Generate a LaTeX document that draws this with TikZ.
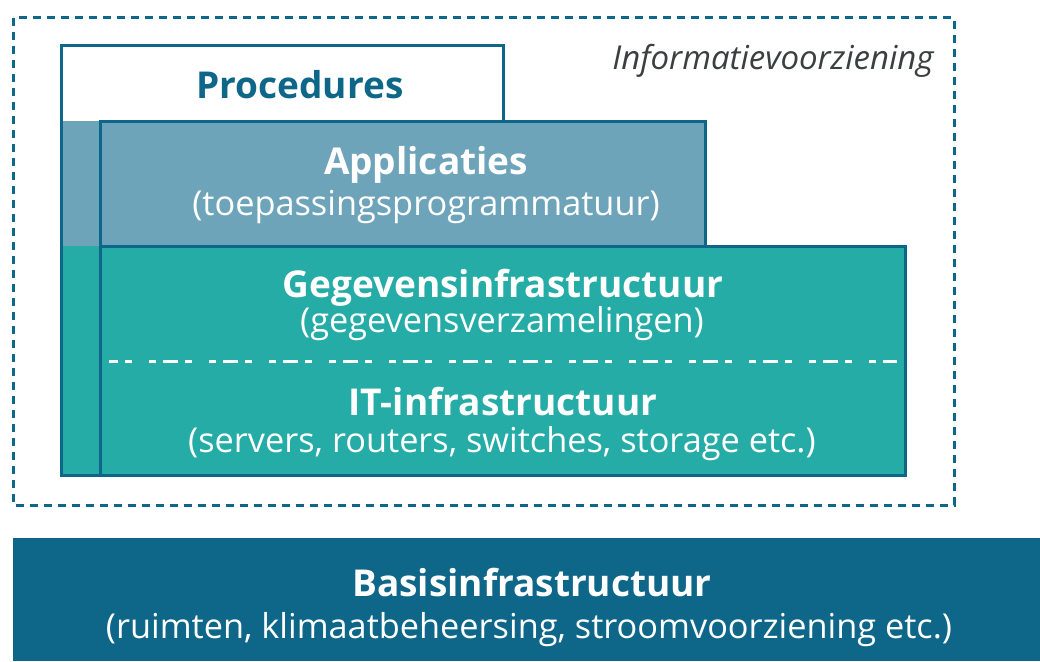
\documentclass[tikz,border=0pt]{standalone}
\usepackage{fontspec}
\setmainfont{Open Sans}
\definecolor{dblue}{HTML}{0E6689}
\definecolor{applblue}{HTML}{6EA4BA}
\definecolor{gteal}{HTML}{26ACA6}
\definecolor{labelgray}{HTML}{3A3F40}
\tikzset{
  frame/.style={draw=dblue, line width=3pt, line join=miter},
  title/.style={anchor=base, inner sep=0pt, font=\fontsize{37}{41}\selectfont\bfseries},
  sub/.style={anchor=base, inner sep=0pt, font=\fontsize{34.3}{38}\selectfont},
  innerdash/.style={draw=white, line width=3.5pt,
    dash pattern=on 15pt off 7pt on 7pt off 17pt on 7pt off 7pt, dash phase=6pt},
  outerdash/.style={draw=dblue, line width=3pt, dash pattern=on 8pt off 6pt}
}
\begin{document}
\begin{tikzpicture}[x=1pt, y=-1pt]
  % canvas
  \fill[white] (0,0) rectangle (1040,661);
  \useasboundingbox (0,0) rectangle (1040,661);

  % Procedures: top box and left column (L shape)
  \fill[white] (61,46) rectangle (503,121);
  \fill[applblue] (61,121) rectangle (100,246);
  \fill[gteal] (61,246) rectangle (100,475);
  \draw[frame] (503,121) -- (503,46) -- (61,46) -- (61,475) -- (100,475);

  % Applicaties
  \draw[frame, fill=applblue] (100,121) rectangle (705,246);

  % Gegevens- and IT-infrastructuur
  \draw[frame, fill=gteal] (100,246) rectangle (905,475);
  \coordinate (splitL) at (109.3,361.5);
  \coordinate (splitR) at (897,361.5);
  \draw[innerdash] (splitL) -- (splitR);

  % Informatievoorziening boundary
  \draw[outerdash] (13,18) rectangle (954,505);

  % Basisinfrastructuur
  \fill[dblue] (13,538) rectangle (1040,661);

  % labels
  \node[anchor=base, inner sep=0pt, text=labelgray, font=\fontsize{33}{37}\selectfont\itshape]
    (info) at (773,70) {Informatievoorziening};
  \node[title, text=dblue] (proc) at (300,98) {Procedures};
  \node[title, text=white] (appl) at (426,174) {Applicaties};
  \node[sub, text=white] (applsub) at (426,215) {(toepassingsprogrammatuur)};
  \node[title, text=white] (gege) at (503,297) {Gegevensinfrastructuur};
  \node[sub, text=white] (gegesub) at (502,332) {(gegevensverzamelingen)};
  \node[title, text=white] (it) at (503,415) {IT-infrastructuur};
  \node[sub, text=white] (itsub) at (502,452) {(servers, routers, switches, storage etc.)};
  \node[title, text=white] (basis) at (532,596) {Basisinfrastructuur};
  \node[sub, text=white] (basissub) at (529,638) {(ruimten, klimaatbeheersing, stroomvoorziening etc.)};
\end{tikzpicture}
\end{document}
